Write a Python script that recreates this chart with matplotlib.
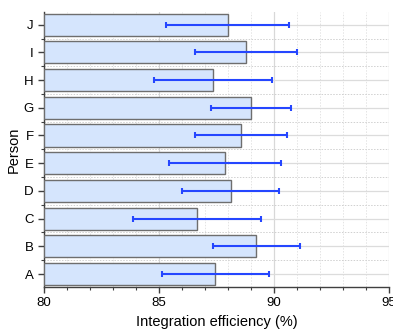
import matplotlib.pyplot as plt
import numpy as np
from matplotlib.ticker import MultipleLocator

plt.rcParams["font.family"] = ["Liberation Sans", "DejaVu Sans"]

persons = ["A", "B", "C", "D", "E", "F", "G", "H", "I", "J"]
efficiency = [87.46, 89.24, 86.67, 88.12, 87.89, 88.57, 89.02, 87.35, 88.79, 88.0]
error = [2.33, 1.9, 2.79, 2.12, 2.44, 2.02, 1.75, 2.57, 2.22, 2.67]

fig = plt.figure(figsize=(3.93, 3.33), dpi=100)
ax = fig.add_axes([0.112, 0.138, 0.877, 0.827])

y = np.arange(len(persons))
ax.barh(
    y,
    np.array(efficiency) - 80,
    left=80,
    height=0.8,
    color="#d5e5fd",
    edgecolor="#6e6e6e",
    linewidth=1.0,
    zorder=3,
)
ax.errorbar(
    efficiency,
    y,
    xerr=error,
    fmt="none",
    ecolor="#2546ff",
    elinewidth=1.5,
    capsize=2.5,
    capthick=1.5,
    zorder=4,
)

ax.set_xlim(80, 95)
ax.set_ylim(-0.47, 9.47)
ax.set_xticks([80, 85, 90, 95])
ax.xaxis.set_minor_locator(MultipleLocator(1))
ax.set_yticks(y)
ax.set_yticklabels(persons)
ax.set_yticks(y[:-1] + 0.5, minor=True)

ax.grid(axis="x", which="major", color="#d8d8d8", lw=0.9, zorder=0)
ax.grid(axis="x", which="minor", color="#e4e4e4", lw=0.7, ls=(0, (1.5, 1.5)), zorder=0)
ax.grid(axis="y", which="major", color="#dcdcdc", lw=0.9, zorder=0)
ax.grid(axis="y", which="minor", color="#d0d0d0", lw=0.7, ls=(0, (1.5, 1.5)), zorder=0)

for side in ["top", "right"]:
    ax.spines[side].set_visible(False)
for side in ["left", "bottom"]:
    ax.spines[side].set_color("#404040")
    ax.spines[side].set_linewidth(1.0)

ax.tick_params(which="major", length=4, width=1.0, color="#404040", labelsize=9.5)
ax.tick_params(which="minor", length=2, width=0.8, color="#404040")

ax.set_xlabel("Integration efficiency (%)", fontsize=10.5, labelpad=4)
ax.set_ylabel("Person", fontsize=10.5, labelpad=2)

fig.savefig("out.png", dpi=100)
